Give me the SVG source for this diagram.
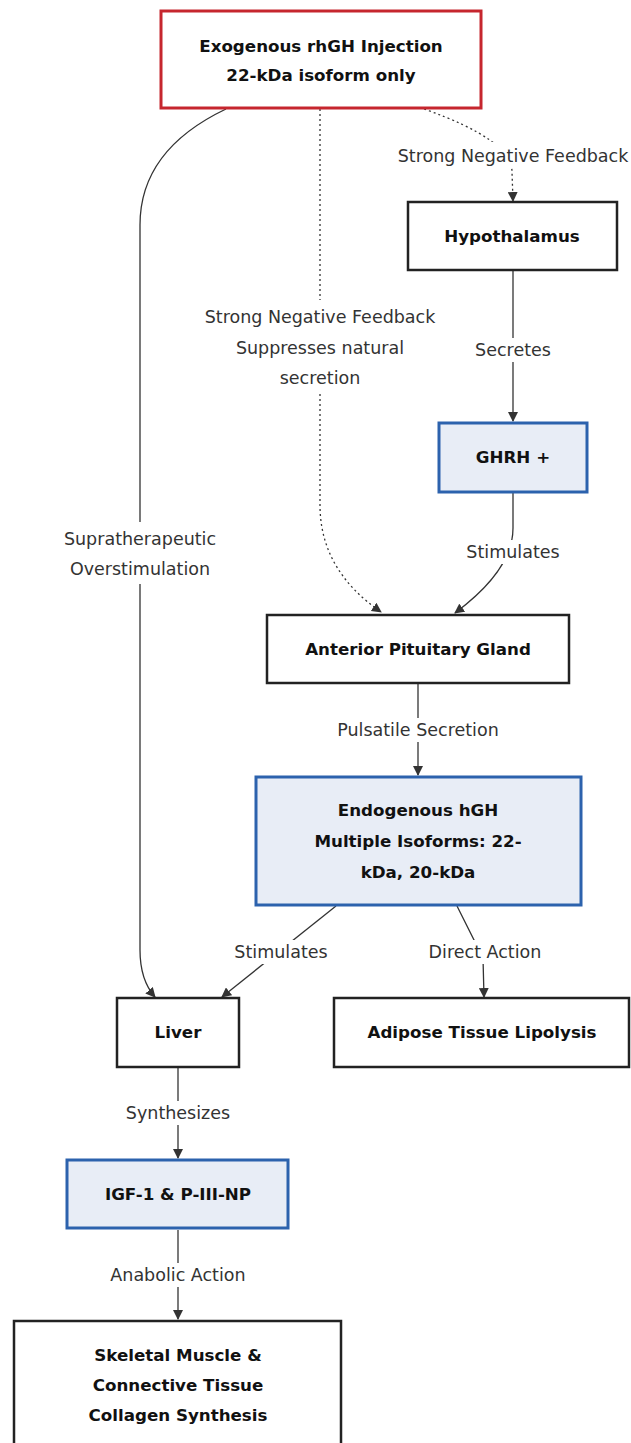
<svg xmlns="http://www.w3.org/2000/svg" width="631" height="1443" viewBox="0 0 631 1443">
<style>
.node rect{fill:#ffffff;stroke:#222222;stroke-width:2.5}
.node.blue rect{fill:#e8edf6;stroke:#2c62ad;stroke-width:3}
.node.red rect{fill:#ffffff;stroke:#c6262e;stroke-width:3}
.node text{font-family:"DejaVu Sans",Verdana,sans-serif;font-weight:bold;font-size:16.7px;fill:#111111;text-anchor:middle}
.edge{fill:none;stroke:#333333;stroke-width:1.3}
.dot{stroke-dasharray:2 3}
.lbl rect{fill:#ffffff}
.lbl text{font-family:"DejaVu Sans",Verdana,sans-serif;font-size:17.5px;fill:#333333;text-anchor:middle}
</style>
<defs>
<marker id="arr" viewBox="0 0 10 10" refX="9" refY="5" markerWidth="10" markerHeight="10" markerUnits="userSpaceOnUse" orient="auto">
<path d="M0,0 L10,5 L0,10 z" fill="#333333"/>
</marker>
</defs>
<rect width="631" height="1443" fill="#ffffff"/>
<g id="edges">
<path class="edge" d="M226,109 Q140,150 140,225 L140,950 Q140,980 155,997" marker-end="url(#arr)"/>
<path class="edge dot" d="M320,109 L320,505 Q320,570 381,612" marker-end="url(#arr)"/>
<path class="edge dot" d="M424,109 Q512,140 512,172 L513,201" marker-end="url(#arr)"/>
<path class="edge" d="M513,271 L513,421" marker-end="url(#arr)"/>
<path class="edge" d="M513,493 L513,528 Q513,570 455,613" marker-end="url(#arr)"/>
<path class="edge" d="M418,684 L418,775" marker-end="url(#arr)"/>
<path class="edge" d="M336,906 L222,997" marker-end="url(#arr)"/>
<path class="edge" d="M457,906 L483,958 L484,997" marker-end="url(#arr)"/>
<path class="edge" d="M178,1068 L178,1158" marker-end="url(#arr)"/>
<path class="edge" d="M178,1230 L178,1319" marker-end="url(#arr)"/>
</g>
<g id="edge-labels">
<g class="lbl"><rect x="45" y="522" width="190" height="62"/><text x="140" y="545">Supratherapeutic</text><text x="140" y="575">Overstimulation</text></g>
<g class="lbl"><rect x="195" y="300" width="250" height="92"/><text x="320" y="323">Strong Negative Feedback</text><text x="320" y="354">Suppresses natural</text><text x="320" y="384">secretion</text></g>
<g class="lbl"><rect x="396" y="142" width="235" height="26"/><text x="513" y="162">Strong Negative Feedback</text></g>
<g class="lbl"><rect x="466" y="338" width="94" height="24"/><text x="513" y="356">Secretes</text></g>
<g class="lbl"><rect x="458" y="540" width="110" height="24"/><text x="513" y="558">Stimulates</text></g>
<g class="lbl"><rect x="322" y="718" width="192" height="24"/><text x="418" y="736">Pulsatile Secretion</text></g>
<g class="lbl"><rect x="226" y="940" width="110" height="24"/><text x="281" y="958">Stimulates</text></g>
<g class="lbl"><rect x="414" y="940" width="142" height="24"/><text x="485" y="958">Direct Action</text></g>
<g class="lbl"><rect x="114" y="1101" width="128" height="24"/><text x="178" y="1119">Synthesizes</text></g>
<g class="lbl"><rect x="92" y="1263" width="172" height="24"/><text x="178" y="1281">Anabolic Action</text></g>
</g>
<g id="n-exo" class="node red"><rect x="161" y="11" width="320" height="97"/><text x="321" y="52">Exogenous rhGH Injection</text><text x="321" y="81">22-kDa isoform only</text></g>
<g id="n-hypo" class="node"><rect x="408" y="202" width="209" height="68"/><text x="512" y="242">Hypothalamus</text></g>
<g id="n-ghrh" class="node blue"><rect x="439" y="423" width="148" height="69"/><text x="513" y="463">GHRH +</text></g>
<g id="n-ap" class="node"><rect x="267" y="615" width="302" height="68"/><text x="418" y="655">Anterior Pituitary Gland</text></g>
<g id="n-endo" class="node blue"><rect x="256" y="777" width="325" height="128"/><text x="418" y="816">Endogenous hGH</text><text x="418" y="847">Multiple Isoforms: 22-</text><text x="418" y="878">kDa, 20-kDa</text></g>
<g id="n-liver" class="node"><rect x="117" y="998" width="122" height="69"/><text x="178" y="1038">Liver</text></g>
<g id="n-adipose" class="node"><rect x="334" y="998" width="295" height="69"/><text x="482" y="1038">Adipose Tissue Lipolysis</text></g>
<g id="n-igf" class="node blue"><rect x="67" y="1160" width="221" height="68"/><text x="178" y="1200">IGF-1 &amp; P-III-NP</text></g>
<g id="n-skel" class="node"><rect x="14" y="1321" width="327" height="130"/><text x="178" y="1361">Skeletal Muscle &amp;</text><text x="178" y="1391">Connective Tissue</text><text x="178" y="1421">Collagen Synthesis</text></g>
</svg>
